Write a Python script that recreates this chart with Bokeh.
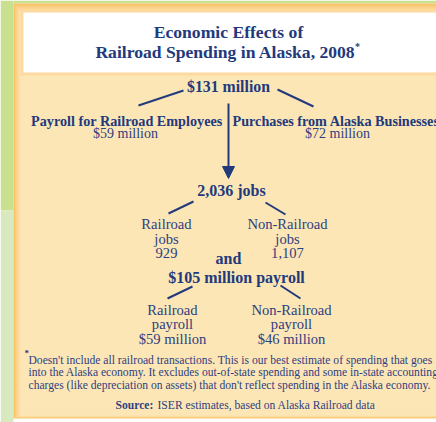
from bokeh.plotting import figure
from bokeh.models import Range1d, Arrow, NormalHead
from bokeh.core.properties import value
from bokeh.embed import file_html
from bokeh.resources import INLINE

# ---- content / values ----
title_lines = ["Economic Effects of", "Railroad Spending in Alaska, 2008"]
total_spending = "$131 million"
spend_categories = ["Payroll for Railroad Employees", "Purchases from Alaska Businesses"]
spend_values = ["$59 million", "$72 million"]
total_jobs = "2,036 jobs"
job_categories = ["Railroad", "Non-Railroad"]
job_values = ["929", "1,107"]
total_payroll = "$105 million payroll"
payroll_categories = ["Railroad", "Non-Railroad"]
payroll_values = ["$59 million", "$46 million"]
footnote_lines = [
    "Doesn't include all railroad transactions. This is our best estimate of spending that goes",
    "into the Alaska economy. It excludes out-of-state spending and some in-state accounting",
    "charges (like depreciation on assets) that don't reflect spending in the Alaska economy.",
]
source_label = "Source:"
source_text = "ISER estimates, based on Alaska Railroad data"

# ---- styles ----
NAVY = "#223a7c"
NAVY2 = "#2d4080"
SERIF = value("Liberation Serif")

W, H = 436, 422
p = figure(width=W, height=H, output_backend="svg", toolbar_location=None,
           x_range=Range1d(0, W), y_range=Range1d(H, 0),
           min_border=0, outline_line_color=None, background_fill_color="#ffffff",
           border_fill_color="#ffffff")
p.axis.visible = False
p.grid.visible = False

# background / panels
p.quad(left=[0], right=[13], top=[0], bottom=[210], color="#c9e08f", line_color=None)
p.quad(left=[0], right=[13], top=[210], bottom=[430], color="#d9e9bf", line_color=None)
p.quad(left=[13], right=[440], top=[0], bottom=[3], color="#c9e08f", line_color=None)
# orange border gradient
border_cols = ["#f9c36a", "#fbcc7e", "#fcd590", "#fddc9f", "#fde1ab"]
for i, c in enumerate(border_cols):
    p.quad(left=[13 + i * 1.5], right=[440], top=[3 + i * 2], bottom=[418 - i * 0.6],
           color=c, line_color=None)
p.quad(left=[20], right=[440], top=[12], bottom=[415], color="#fde6b6", line_color=None)
# title box
p.quad(left=[20], right=[440], top=[9], bottom=[75], color="#fed9a0", line_color=None)
p.quad(left=[23], right=[440], top=[12], bottom=[72], color="#ffffff", line_color=None)

def txt(x, y, t, size, bold=False, align="center", color=NAVY):
    p.text(x=[x], y=[y], text=[t], text_align=align, text_baseline="middle",
           text_font=SERIF, text_font_size=f"{size}px",
           text_font_style="bold" if bold else "normal", text_color=color)

# title
txt(228, 31, title_lines[0], 17.6, bold=True)
txt(225, 51, title_lines[1], 17.6, bold=True)
txt(357, 46, "*", 10, bold=True)

# top level
txt(228, 86, total_spending, 15.8, bold=True)
p.segment(x0=[183, 277], y0=[90, 89], x1=[138, 313], y1=[105, 106], line_color=NAVY, line_width=2)
txt(222, 120, spend_categories[0], 14.2, bold=True, align="right")
txt(232, 120, spend_categories[1], 14.2, bold=True, align="left")
txt(125, 133, spend_values[0], 14, color=NAVY2)
txt(337, 133, spend_values[1], 14, color=NAVY2)

p.add_layout(Arrow(end=NormalHead(size=12, fill_color=NAVY, line_color=NAVY),
                   x_start=228, y_start=103, x_end=228, y_end=178,
                   line_color=NAVY, line_width=2))

# jobs
txt(231, 190, total_jobs, 16, bold=True)
p.segment(x0=[193, 265], y0=[201, 202], x1=[168, 285], y1=[213, 214], line_color=NAVY, line_width=2)
for cx, cat, v in zip([166, 287], job_categories, job_values):
    txt(cx, 223, cat, 14.6, color=NAVY2)
    txt(cx, 238, "jobs", 14.6, color=NAVY2)
    txt(cx, 252, v, 14.6, color=NAVY2)

txt(228, 258, "and", 16, bold=True)
txt(236, 277, total_payroll, 16, bold=True)
p.segment(x0=[192, 280], y0=[286, 285], x1=[167, 300], y1=[298, 298], line_color=NAVY, line_width=2)
for cx, cat, v in zip([172, 291], payroll_categories, payroll_values):
    txt(cx, 309, cat, 14.6, color=NAVY2)
    txt(cx, 323, "payroll", 14.6, color=NAVY2)
    txt(cx, 338, v, 14.6, color=NAVY2)

# footnote
txt(24, 352, "*", 9, bold=True, align="left")
for i, line in enumerate(footnote_lines):
    txt(28, 360 + i * 12.3, line, 11.6, align="left", color=NAVY2)
txt(115, 405, source_label, 11.6, bold=True, align="left", color=NAVY2)
txt(157, 405, source_text, 11.6, align="left", color=NAVY2)

open("out.html", "w").write(file_html(p, INLINE))
